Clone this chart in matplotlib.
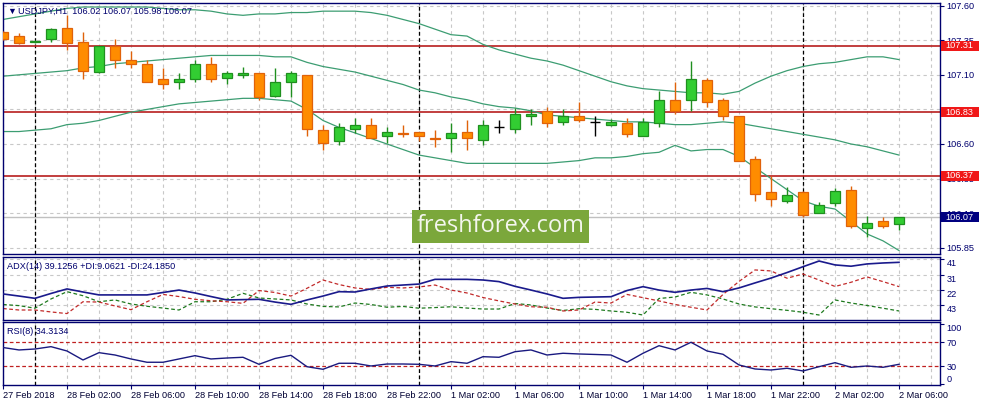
import matplotlib
matplotlib.use("Agg")
import matplotlib.pyplot as plt
from matplotlib.patches import Rectangle
from matplotlib.transforms import blended_transform_factory
import numpy as np

plt.rcParams['font.family'] = ['Liberation Sans', 'DejaVu Sans']

# USDJPY H1, 27 Feb 22:00 .. 2 Mar 06:00 (57 bars)
opens = [107.41, 107.38, 107.338, 107.36, 107.44, 107.34, 107.12, 107.31, 107.21, 107.18,
         107.07, 107.05, 107.07, 107.18, 107.08, 107.10, 107.11, 106.95, 107.05, 107.10,
         106.70, 106.62, 106.71, 106.74, 106.66, 106.68, 106.69, 106.642, 106.64, 106.69,
         106.63, 106.72, 106.71, 106.80, 106.84, 106.76, 106.80, 106.76, 106.74, 106.75,
         106.66, 106.75, 106.92, 106.92, 107.06, 106.92, 106.80, 106.49, 106.25, 106.19,
         106.25, 106.10, 106.17, 106.27, 105.99, 106.04, 106.02]
highs = [107.42, 107.40, 107.35, 107.44, 107.53, 107.41, 107.31, 107.36, 107.27, 107.21,
         107.15, 107.11, 107.21, 107.23, 107.13, 107.16, 107.11, 107.15, 107.13, 107.10,
         106.74, 106.75, 106.79, 106.79, 106.72, 106.74, 106.69, 106.70, 106.75, 106.77,
         106.77, 106.77, 106.86, 106.85, 106.87, 106.85, 106.90, 106.80, 106.78, 106.79,
         106.79, 106.98, 107.05, 107.20, 107.08, 106.93, 106.80, 106.51, 106.37, 106.29,
         106.26, 106.18, 106.28, 106.30, 106.08, 106.07, 106.07]
lows = [107.35, 107.32, 107.33, 107.34, 107.28, 107.07, 107.11, 107.15, 107.15, 107.05,
        107.00, 107.00, 107.05, 107.05, 107.03, 107.08, 106.92, 106.94, 106.94, 106.66,
        106.56, 106.59, 106.68, 106.64, 106.61, 106.65, 106.62, 106.58, 106.54, 106.56,
        106.59, 106.68, 106.68, 106.74, 106.72, 106.74, 106.76, 106.66, 106.73, 106.65,
        106.66, 106.72, 106.82, 106.84, 106.87, 106.77, 106.48, 106.19, 106.15, 106.17,
        106.07, 106.10, 106.15, 105.99, 105.93, 105.99, 105.98]
closes = [107.36, 107.33, 107.342, 107.43, 107.33, 107.13, 107.31, 107.21, 107.18, 107.05,
          107.03, 107.07, 107.18, 107.07, 107.11, 107.11, 106.94, 107.05, 107.11, 106.71,
          106.61, 106.72, 106.74, 106.64, 106.69, 106.67, 106.66, 106.638, 106.68, 106.64,
          106.74, 106.72, 106.82, 106.82, 106.75, 106.80, 106.77, 106.76, 106.76, 106.67,
          106.76, 106.92, 106.84, 107.07, 106.90, 106.80, 106.48, 106.24, 106.20, 106.23,
          106.09, 106.16, 106.26, 106.01, 106.03, 106.01, 106.07]

bb_upper = [107.50, 107.52, 107.54, 107.56, 107.58, 107.59, 107.59, 107.59, 107.59, 107.59,
            107.58, 107.57, 107.57, 107.56, 107.54, 107.53, 107.54, 107.54, 107.55, 107.55,
            107.56, 107.56, 107.56, 107.55, 107.53, 107.50, 107.47, 107.43, 107.39, 107.38,
            107.32, 107.28, 107.25, 107.22, 107.20, 107.17, 107.13, 107.09, 107.05, 107.02,
            107.00, 106.99, 106.98, 106.97, 106.97, 106.96, 106.98, 107.04, 107.09, 107.13,
            107.16, 107.18, 107.19, 107.21, 107.23, 107.23, 107.21]
bb_mid = [107.09, 107.10, 107.11, 107.12, 107.13, 107.15, 107.16, 107.18, 107.19, 107.20,
          107.21, 107.22, 107.23, 107.24, 107.24, 107.24, 107.24, 107.23, 107.23, 107.19,
          107.16, 107.14, 107.12, 107.09, 107.06, 107.03, 106.99, 106.97, 106.94, 106.92,
          106.89, 106.87, 106.86, 106.84, 106.81, 106.80, 106.79, 106.78, 106.77, 106.76,
          106.76, 106.75, 106.74, 106.74, 106.75, 106.76, 106.75, 106.73, 106.71, 106.69,
          106.67, 106.65, 106.63, 106.60, 106.58, 106.55, 106.52]
bb_lower = [106.69, 106.69, 106.70, 106.71, 106.74, 106.75, 106.77, 106.80, 106.83, 106.85,
            106.87, 106.89, 106.90, 106.91, 106.92, 106.93, 106.93, 106.92, 106.91, 106.85,
            106.77, 106.72, 106.68, 106.64, 106.60, 106.56, 106.52, 106.50, 106.48, 106.46,
            106.46, 106.46, 106.46, 106.46, 106.46, 106.47, 106.48, 106.50, 106.50, 106.51,
            106.53, 106.54, 106.59, 106.55, 106.56, 106.56, 106.51, 106.43, 106.35, 106.27,
            106.19, 106.15, 106.13, 106.04, 105.95, 105.90, 105.83]

adx = [19.6, 18.3, 16.9, 19.9, 22.7, 20.8, 19.0, 19.0, 19.0, 19.0,
       20.5, 22.0, 20.2, 18.0, 15.9, 16.1, 16.3, 14.6, 13.2, 15.9,
       18.3, 21.0, 20.8, 22.7, 24.5, 25.1, 25.7, 28.6, 28.6, 28.6,
       28.2, 27.2, 24.3, 22.0, 19.6, 16.9, 17.5, 17.7, 17.9, 21.7,
       24.1, 22.0, 20.6, 22.0, 23.0, 21.0, 23.3, 26.4, 29.4, 32.8,
       36.4, 39.9, 37.5, 36.7, 38.1, 38.7, 39.1]
plus_di = [13.1, 12.4, 10.8, 16.5, 21.0, 18.5, 14.8, 15.9, 13.4, 12.0,
           10.9, 9.7, 14.8, 14.8, 16.3, 20.0, 17.1, 16.5, 15.9, 13.4,
           11.9, 11.6, 14.0, 13.1, 11.4, 11.9, 10.8, 11.2, 11.7, 10.9,
           10.3, 10.3, 13.7, 12.8, 10.9, 9.4, 10.5, 10.1, 9.1, 8.3,
           6.6, 16.8, 17.7, 20.6, 19.0, 16.5, 13.4, 11.6, 10.5, 9.5,
           8.3, 6.6, 15.9, 14.0, 12.5, 10.8, 9.1]
minus_di = [10.6, 9.7, 9.7, 8.5, 7.5, 14.8, 14.6, 12.2, 9.9, 14.8,
            19.3, 18.0, 16.3, 15.4, 14.8, 13.8, 21.7, 20.5, 18.3, 23.1,
            28.2, 25.4, 23.3, 22.4, 23.7, 23.3, 23.9, 25.1, 22.0, 20.2,
            17.4, 15.3, 13.4, 11.7, 11.4, 9.1, 9.7, 14.6, 14.0, 19.3,
            17.3, 15.3, 13.1, 11.4, 9.7, 19.3, 27.3, 34.4, 33.8, 29.3,
            31.9, 28.2, 24.2, 26.8, 30.1, 27.2, 24.1]
rsi = [61.3, 57.2, 58.8, 62.7, 55.5, 40.5, 52.7, 48.8, 42.2, 36.7,
       36.7, 42.2, 47.7, 42.2, 43.8, 45.0, 33.3, 43.0, 48.3, 29.3,
       25.0, 35.0, 35.0, 30.5, 33.8, 33.8, 33.3, 30.5, 37.7, 35.0,
       46.0, 45.0, 54.3, 57.2, 48.8, 51.7, 50.5, 49.7, 48.8, 36.7,
       51.7, 64.3, 57.2, 70.0, 55.5, 50.0, 32.2, 25.5, 23.8, 26.7,
       22.2, 29.3, 36.0, 28.3, 30.5, 28.3, 33.3]

time_labels = ['27 Feb 2018', '28 Feb 02:00', '28 Feb 06:00', '28 Feb 10:00', '28 Feb 14:00',
               '28 Feb 18:00', '28 Feb 22:00', '1 Mar 02:00', '1 Mar 06:00', '1 Mar 10:00',
               '1 Mar 14:00', '1 Mar 18:00', '1 Mar 22:00', '2 Mar 02:00', '2 Mar 06:00']
day_starts = [2, 26, 50]          # 28 Feb, 1 Mar, 2 Mar 00:00
levels = [107.31, 106.83, 106.37]  # red horizontal lines
bid = 106.07
price_ticks = [105.85, 106.10, 106.35, 106.60, 106.85, 107.10, 107.35, 107.60]
adx_ticks = [13, 22, 31, 41]
adx_tick_labels = ['43', '22', '31', '41']
rsi_ticks = [0, 30, 70, 100]

NAVY = '#00006e'
GRID = '#c8c8c8'
BULL, BULL_EDGE = '#32cd32', '#1f8f1f'
BEAR, BEAR_EDGE = '#ff8c00', '#e0620a'
BAND = '#3c9d72'
FS = 6.6

W, H = 981, 405
fig = plt.figure(figsize=(W / 100, H / 100), dpi=100)


def box(l, t, r, b):
    return [l / W, 1 - b / H, (r - l) / W, (b - t) / H]


ax = fig.add_axes(box(2.5, 3, 939.5, 254))
ax_adx = fig.add_axes(box(2.5, 257.3, 939.5, 319.5), sharex=ax)
ax_rsi = fig.add_axes(box(2.5, 322, 939.5, 385), sharex=ax)

x = np.arange(len(closes))
o, h, l, c = (np.array(v) for v in (opens, highs, lows, closes))

for a in (ax, ax_adx, ax_rsi):
    for s in a.spines.values():
        s.set_color(NAVY)
        s.set_linewidth(1.0)
    a.yaxis.tick_right()
    a.tick_params(axis='y', direction='out', length=3, width=0.8, color=NAVY,
                  labelcolor=NAVY, labelsize=FS, pad=2)
    a.tick_params(axis='x', length=0, labelbottom=False)
    for xi in range(0, 60, 2):
        a.axvline(xi, color=GRID, lw=0.8, ls=(0, (3, 3)), zorder=0)
    for d in day_starts:
        a.axvline(d, color='black', lw=0.9, ls=(0, (3, 2)), zorder=1)

ax.set_xlim(-0.03, 58.53)

# main window
ax.set_ylim(105.805, 107.619)
ax.set_yticks(price_ticks)
ax.set_yticklabels([f'{v:.2f}' for v in price_ticks])
for v in price_ticks:
    ax.axhline(v, color=GRID, lw=0.8, ls=(0, (3, 3)), zorder=0)
ax.axhline(bid, color='#c0c0c0', lw=1.0, zorder=0.5)
for v in levels:
    ax.axhline(v, color='#b81e1e', lw=1.2, zorder=1.5)

ax.plot(x, bb_upper, color=BAND, lw=0.9, zorder=2)
ax.plot(x, bb_mid, color=BAND, lw=0.9, zorder=2)
ax.plot(x, bb_lower, color=BAND, lw=0.9, zorder=2)

up, dn, eq = c > o, c < o, c == o
ax.vlines(x[up], l[up], h[up], color=BULL_EDGE, lw=1.0, zorder=3)
ax.vlines(x[dn], l[dn], h[dn], color=BEAR_EDGE, lw=1.0, zorder=3)
ax.bar(x[up], c[up] - o[up], bottom=o[up], width=0.64, color=BULL,
       edgecolor=BULL_EDGE, lw=0.9, zorder=4)
ax.bar(x[dn], o[dn] - c[dn], bottom=c[dn], width=0.64, color=BEAR,
       edgecolor=BEAR_EDGE, lw=0.9, zorder=4)
ax.vlines(x[eq], l[eq], h[eq], color='black', lw=1.0, zorder=4)
ax.hlines(c[eq], x[eq] - 0.34, x[eq] + 0.34, color='black', lw=1.0, zorder=4)

PX = (107.619 - 105.805) / 251.0
tr = blended_transform_factory(fig.transFigure, ax.transData)
for v, col in [(levels[0], '#f01818'), (levels[1], '#f01818'), (levels[2], '#f01818'), (bid, '#000080')]:
    ax.add_patch(Rectangle((940.5 / W, v - 5 * PX), 38.5 / W, 10 * PX, transform=tr,
                           facecolor=col, edgecolor='none', clip_on=False, zorder=5))
    ax.text(945 / W, v, f'{v:.2f}', transform=tr, color='white', fontsize=FS,
            ha='left', va='center', clip_on=False, zorder=6)

fig.text(7 / W, 1 - 11 / H, '\u25bc', fontsize=6.5, color=NAVY, ha='left', va='center')
fig.text(18 / W, 1 - 11 / H, 'USDJPY,H1  106.02 106.07 105.98 106.07', fontsize=FS,
         color=NAVY, ha='left', va='center')

fig.text(500.5 / W, 1 - 226.5 / H, 'freshforex.com', family=['Open Sans', 'DejaVu Sans'],
         fontsize=17, color='#f4f6ee', ha='center', va='center', zorder=10,
         bbox=dict(boxstyle='square,pad=0.2', facecolor='#7ba73b', edgecolor='none'))

# ADX window
ax_adx.set_ylim(3.84, 42.2)
ax_adx.set_yticks(adx_ticks)
ax_adx.set_yticklabels(adx_tick_labels)
for lbl in ax_adx.get_yticklabels():
    lbl.set_va('top')
for v in adx_ticks:
    ax_adx.axhline(v, color=GRID, lw=0.8, ls=(0, (3, 3)), zorder=0)
ax_adx.plot(x, adx, color='#1a1a8c', lw=1.2, zorder=3)
ax_adx.plot(x, plus_di, color='#1e7a1e', lw=0.9, ls=(0, (3, 2)), zorder=2)
ax_adx.plot(x, minus_di, color='#c22a2a', lw=0.9, ls=(0, (3, 2)), zorder=2)
ax_adx.text(7 / W, 1 - 266.5 / H, 'ADX(14) 39.1256 +DI:9.0621 -DI:24.1850',
            transform=fig.transFigure, fontsize=FS, color=NAVY, ha='left', va='center')

# RSI window
ax_rsi.set_ylim(-1.2, 103.8)
ax_rsi.set_yticks(rsi_ticks)
ax_rsi.set_yticklabels([str(v) for v in rsi_ticks])
rl = ax_rsi.get_yticklabels()
rl[0].set_va('bottom')
rl[-1].set_va('top')
for v in (30, 70):
    ax_rsi.axhline(v, color='#c02020', lw=0.9, ls=(0, (3, 2)), zorder=1)
ax_rsi.plot(x, rsi, color='#1a1a80', lw=1.0, zorder=3)
ax_rsi.text(7 / W, 1 - 331 / H, 'RSI(8) 34.3134', transform=fig.transFigure,
            fontsize=FS, color=NAVY, ha='left', va='center')

ax_rsi.set_xticks(x[::4])
ax_rsi.set_xticklabels(time_labels, ha='left')
ax_rsi.tick_params(axis='x', direction='out', length=3, width=0.8, color=NAVY,
                   labelbottom=True, labelsize=FS, labelcolor='#000033', pad=1.5)
ax_rsi.set_xlim(-0.03, 58.53)

fig.savefig('out.png', dpi=100)
